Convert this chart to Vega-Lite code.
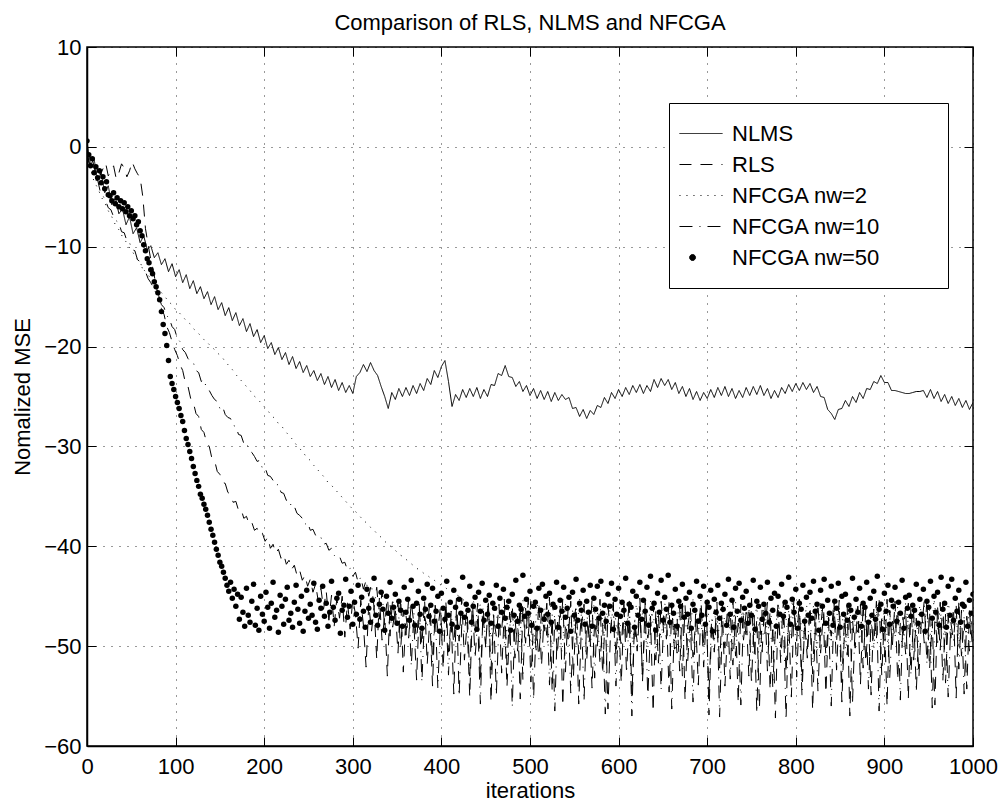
{
"$schema": "https://vega.github.io/schema/vega-lite/v6.json",
"width": 886, "height": 699,
"autosize": {"type": "none"},
"padding": {"left": 87, "top": 47, "right": 32, "bottom": 61},
"background": "white",
"title": {"text": "Comparison of RLS, NLMS and NFCGA", "fontSize": 22, "fontWeight": "normal", "font": "Liberation Sans", "color": "#000", "offset": 1, "anchor": "middle"},
"config": {
 "view": {"stroke": "#000", "strokeWidth": 1.5},
 "axis": {"labelFont": "Liberation Sans", "titleFont": "Liberation Sans", "labelFontSize": 22, "titleFontSize": 22, "titleFontWeight": "normal", "labelColor": "#000", "titleColor": "#000", "domainColor": "#000", "domainWidth": 1.5, "tickColor": "#000", "tickWidth": 1, "gridColor": "#000", "gridDash": [1, 7], "gridOpacity": 0.8, "tickSize": -9}
},
"datasets": {
"nlms": [{"i":0,"v":0.5},{"i":4,"v":-1.8},{"i":8,"v":-1.2},{"i":12,"v":-3.4},{"i":16,"v":-2.6},{"i":20,"v":-4.6},{"i":24,"v":-3.9},{"i":28,"v":-5.8},{"i":32,"v":-5.1},{"i":36,"v":-6.7},{"i":40,"v":-6.2},{"i":44,"v":-7.8},{"i":48,"v":-7.0},{"i":52,"v":-8.7},{"i":56,"v":-8.1},{"i":60,"v":-9.6},{"i":64,"v":-8.9},{"i":68,"v":-10.3},{"i":72,"v":-9.9},{"i":76,"v":-11.1},{"i":80,"v":-10.6},{"i":84,"v":-11.8},{"i":88,"v":-11.2},{"i":92,"v":-12.5},{"i":96,"v":-11.7},{"i":100,"v":-13.0},{"i":104,"v":-12.3},{"i":108,"v":-13.6},{"i":112,"v":-12.8},{"i":116,"v":-14.2},{"i":120,"v":-13.4},{"i":124,"v":-14.7},{"i":128,"v":-14.0},{"i":132,"v":-15.2},{"i":136,"v":-14.5},{"i":140,"v":-15.8},{"i":144,"v":-15.0},{"i":148,"v":-16.3},{"i":152,"v":-15.6},{"i":156,"v":-16.9},{"i":160,"v":-16.1},{"i":164,"v":-17.4},{"i":168,"v":-16.6},{"i":172,"v":-17.9},{"i":176,"v":-17.2},{"i":180,"v":-18.5},{"i":184,"v":-17.7},{"i":188,"v":-19.0},{"i":192,"v":-18.3},{"i":196,"v":-19.6},{"i":200,"v":-18.9},{"i":204,"v":-20.2},{"i":208,"v":-19.6},{"i":212,"v":-20.8},{"i":216,"v":-20.1},{"i":220,"v":-21.3},{"i":224,"v":-20.6},{"i":228,"v":-21.8},{"i":232,"v":-21.0},{"i":236,"v":-22.2},{"i":240,"v":-21.5},{"i":244,"v":-22.6},{"i":248,"v":-21.9},{"i":252,"v":-23.0},{"i":256,"v":-22.4},{"i":260,"v":-23.4},{"i":264,"v":-22.7},{"i":268,"v":-23.8},{"i":272,"v":-23.0},{"i":276,"v":-24.1},{"i":280,"v":-23.3},{"i":284,"v":-24.4},{"i":288,"v":-23.6},{"i":292,"v":-24.6},{"i":296,"v":-23.9},{"i":300,"v":-24.7},{"i":304,"v":-23.0},{"i":308,"v":-22.6},{"i":312,"v":-21.8},{"i":316,"v":-22.5},{"i":320,"v":-21.6},{"i":324,"v":-22.4},{"i":328,"v":-22.9},{"i":332,"v":-24.0},{"i":336,"v":-25.0},{"i":340,"v":-26.2},{"i":344,"v":-24.6},{"i":348,"v":-25.3},{"i":352,"v":-24.2},{"i":356,"v":-25.0},{"i":360,"v":-24.1},{"i":364,"v":-24.9},{"i":368,"v":-23.9},{"i":372,"v":-24.7},{"i":376,"v":-23.7},{"i":380,"v":-24.4},{"i":384,"v":-23.2},{"i":388,"v":-23.8},{"i":392,"v":-22.4},{"i":396,"v":-23.1},{"i":400,"v":-22.0},{"i":404,"v":-21.4},{"i":408,"v":-23.5},{"i":412,"v":-26.0},{"i":416,"v":-24.8},{"i":420,"v":-25.4},{"i":424,"v":-24.3},{"i":428,"v":-25.1},{"i":432,"v":-24.2},{"i":436,"v":-25.0},{"i":440,"v":-24.1},{"i":444,"v":-25.2},{"i":448,"v":-24.3},{"i":452,"v":-25.0},{"i":456,"v":-23.8},{"i":460,"v":-23.9},{"i":464,"v":-22.7},{"i":468,"v":-22.9},{"i":472,"v":-21.9},{"i":476,"v":-23.0},{"i":480,"v":-23.1},{"i":484,"v":-24.0},{"i":488,"v":-23.5},{"i":492,"v":-24.5},{"i":496,"v":-23.9},{"i":500,"v":-24.9},{"i":504,"v":-24.2},{"i":508,"v":-25.2},{"i":512,"v":-24.4},{"i":516,"v":-25.3},{"i":520,"v":-24.5},{"i":524,"v":-25.5},{"i":528,"v":-24.6},{"i":532,"v":-25.4},{"i":536,"v":-24.8},{"i":540,"v":-25.3},{"i":544,"v":-25.1},{"i":548,"v":-26.2},{"i":552,"v":-26.1},{"i":556,"v":-27.0},{"i":560,"v":-26.3},{"i":564,"v":-27.2},{"i":568,"v":-26.4},{"i":572,"v":-26.8},{"i":576,"v":-25.9},{"i":580,"v":-26.1},{"i":584,"v":-25.1},{"i":588,"v":-25.7},{"i":592,"v":-24.6},{"i":596,"v":-25.2},{"i":600,"v":-24.3},{"i":604,"v":-25.0},{"i":608,"v":-24.1},{"i":612,"v":-24.8},{"i":616,"v":-23.9},{"i":620,"v":-24.6},{"i":624,"v":-23.8},{"i":628,"v":-24.7},{"i":632,"v":-23.9},{"i":636,"v":-24.5},{"i":640,"v":-23.3},{"i":644,"v":-24.1},{"i":648,"v":-23.2},{"i":652,"v":-23.9},{"i":656,"v":-23.3},{"i":660,"v":-24.3},{"i":664,"v":-23.6},{"i":668,"v":-24.7},{"i":672,"v":-24.0},{"i":676,"v":-25.0},{"i":680,"v":-24.2},{"i":684,"v":-25.3},{"i":688,"v":-24.5},{"i":692,"v":-25.4},{"i":696,"v":-24.6},{"i":700,"v":-25.2},{"i":704,"v":-24.3},{"i":708,"v":-25.1},{"i":712,"v":-24.1},{"i":716,"v":-24.9},{"i":720,"v":-24.0},{"i":724,"v":-25.0},{"i":728,"v":-24.2},{"i":732,"v":-25.2},{"i":736,"v":-24.4},{"i":740,"v":-25.1},{"i":744,"v":-24.1},{"i":748,"v":-24.9},{"i":752,"v":-24.0},{"i":756,"v":-24.8},{"i":760,"v":-23.9},{"i":764,"v":-24.9},{"i":768,"v":-24.2},{"i":772,"v":-25.2},{"i":776,"v":-24.4},{"i":780,"v":-25.1},{"i":784,"v":-24.1},{"i":788,"v":-24.7},{"i":792,"v":-23.8},{"i":796,"v":-24.5},{"i":800,"v":-23.7},{"i":804,"v":-24.4},{"i":808,"v":-23.6},{"i":812,"v":-24.3},{"i":816,"v":-23.7},{"i":820,"v":-24.6},{"i":824,"v":-24.0},{"i":828,"v":-25.0},{"i":832,"v":-25.1},{"i":836,"v":-26.3},{"i":840,"v":-26.7},{"i":844,"v":-27.3},{"i":848,"v":-26.3},{"i":852,"v":-26.2},{"i":856,"v":-25.4},{"i":860,"v":-26.0},{"i":864,"v":-25.0},{"i":868,"v":-25.6},{"i":872,"v":-24.6},{"i":876,"v":-25.2},{"i":880,"v":-24.2},{"i":884,"v":-24.3},{"i":888,"v":-23.5},{"i":892,"v":-23.7},{"i":896,"v":-22.9},{"i":900,"v":-23.6},{"i":904,"v":-23.6},{"i":908,"v":-24.4},{"i":912,"v":-24.4},{"i":916,"v":-24.5},{"i":920,"v":-24.6},{"i":924,"v":-24.7},{"i":928,"v":-24.7},{"i":932,"v":-24.6},{"i":936,"v":-24.5},{"i":940,"v":-24.5},{"i":944,"v":-24.4},{"i":948,"v":-25.1},{"i":952,"v":-24.3},{"i":956,"v":-25.2},{"i":960,"v":-24.5},{"i":964,"v":-25.5},{"i":968,"v":-24.8},{"i":972,"v":-25.7},{"i":976,"v":-25.0},{"i":980,"v":-25.9},{"i":984,"v":-25.2},{"i":988,"v":-26.1},{"i":992,"v":-25.4},{"i":996,"v":-26.3},{"i":1000,"v":-25.6}],
"rls": [{"i":0,"v":-0.5},{"i":3,"v":-1.8},{"i":6,"v":-1.2},{"i":9,"v":-2.4},{"i":12,"v":-1.9},{"i":15,"v":-2.8},{"i":18,"v":-2.2},{"i":21,"v":-1.6},{"i":24,"v":-2.9},{"i":27,"v":-2.5},{"i":30,"v":-1.9},{"i":33,"v":-3.2},{"i":36,"v":-2.6},{"i":39,"v":-1.7},{"i":42,"v":-2.1},{"i":45,"v":-3.0},{"i":48,"v":-2.4},{"i":51,"v":-1.5},{"i":54,"v":-2.2},{"i":57,"v":-2.7},{"i":60,"v":-3.1},{"i":63,"v":-5.0},{"i":66,"v":-8.2},{"i":69,"v":-9.8},{"i":72,"v":-11.3},{"i":75,"v":-12.4},{"i":78,"v":-14.0},{"i":81,"v":-14.9},{"i":84,"v":-16.2},{"i":87,"v":-16.8},{"i":90,"v":-18.0},{"i":93,"v":-18.6},{"i":96,"v":-19.5},{"i":99,"v":-20.3},{"i":102,"v":-20.9},{"i":105,"v":-21.8},{"i":108,"v":-22.4},{"i":111,"v":-23.6},{"i":114,"v":-24.0},{"i":117,"v":-25.2},{"i":120,"v":-25.6},{"i":123,"v":-26.7},{"i":126,"v":-27.0},{"i":129,"v":-28.3},{"i":132,"v":-28.6},{"i":135,"v":-29.6},{"i":138,"v":-30.0},{"i":141,"v":-31.2},{"i":144,"v":-31.4},{"i":147,"v":-32.5},{"i":150,"v":-32.8},{"i":153,"v":-33.6},{"i":156,"v":-33.7},{"i":159,"v":-34.6},{"i":162,"v":-34.8},{"i":165,"v":-35.6},{"i":168,"v":-35.5},{"i":171,"v":-36.4},{"i":174,"v":-36.3},{"i":177,"v":-37.2},{"i":180,"v":-37.0},{"i":183,"v":-37.8},{"i":186,"v":-37.6},{"i":189,"v":-38.4},{"i":192,"v":-38.2},{"i":195,"v":-38.9},{"i":198,"v":-38.7},{"i":201,"v":-39.5},{"i":204,"v":-39.1},{"i":207,"v":-40.2},{"i":210,"v":-39.8},{"i":213,"v":-40.7},{"i":216,"v":-40.3},{"i":219,"v":-41.2},{"i":222,"v":-40.8},{"i":225,"v":-41.8},{"i":228,"v":-41.4},{"i":231,"v":-42.3},{"i":234,"v":-41.9},{"i":237,"v":-42.9},{"i":240,"v":-42.4},{"i":243,"v":-43.4},{"i":246,"v":-42.9},{"i":249,"v":-44.0},{"i":252,"v":-43.3},{"i":255,"v":-44.6},{"i":258,"v":-43.8},{"i":261,"v":-45.5},{"i":264,"v":-44.2},{"i":267,"v":-46.3},{"i":270,"v":-44.5},{"i":273,"v":-47.4},{"i":276,"v":-44.9},{"i":279,"v":-48.0},{"i":282,"v":-45.2},{"i":285,"v":-47.2},{"i":288,"v":-45.0},{"i":291,"v":-49.1},{"i":294,"v":-45.6},{"i":297,"v":-48.3},{"i":300,"v":-45.3},{"i":303,"v":-46.8},{"i":306,"v":-50.2},{"i":309,"v":-45.4},{"i":312,"v":-47.9},{"i":315,"v":-52.1},{"i":318,"v":-45.7},{"i":321,"v":-48.6},{"i":324,"v":-46.1},{"i":327,"v":-51.3},{"i":330,"v":-45.2},{"i":333,"v":-49.4},{"i":336,"v":-47.0},{"i":339,"v":-53.0},{"i":342,"v":-45.8},{"i":345,"v":-48.1},{"i":348,"v":-46.3},{"i":351,"v":-50.7},{"i":354,"v":-45.1},{"i":357,"v":-52.6},{"i":360,"v":-46.9},{"i":363,"v":-49.2},{"i":366,"v":-45.6},{"i":369,"v":-47.8},{"i":372,"v":-53.4},{"i":375,"v":-46.2},{"i":378,"v":-49.9},{"i":381,"v":-45.3},{"i":384,"v":-51.8},{"i":387,"v":-47.1},{"i":390,"v":-54.0},{"i":393,"v":-45.9},{"i":396,"v":-48.4},{"i":399,"v":-46.0},{"i":402,"v":-52.3},{"i":405,"v":-45.5},{"i":408,"v":-50.6},{"i":411,"v":-47.3},{"i":414,"v":-54.8},{"i":417,"v":-46.1},{"i":420,"v":-49.5},{"i":423,"v":-45.2},{"i":426,"v":-51.4},{"i":429,"v":-47.6},{"i":432,"v":-55.1},{"i":435,"v":-46.4},{"i":438,"v":-48.8},{"i":441,"v":-45.7},{"i":444,"v":-53.2},{"i":447,"v":-46.9},{"i":450,"v":-50.1},{"i":453,"v":-45.3},{"i":456,"v":-55.6},{"i":459,"v":-47.2},{"i":462,"v":-49.0},{"i":465,"v":-45.8},{"i":468,"v":-52.7},{"i":471,"v":-46.5},{"i":474,"v":-54.1},{"i":477,"v":-48.3},{"i":480,"v":-45.9},{"i":483,"v":-51.2},{"i":486,"v":-47.0},{"i":489,"v":-55.3},{"i":492,"v":-46.2},{"i":495,"v":-49.7},{"i":498,"v":-45.4},{"i":501,"v":-53.6},{"i":504,"v":-47.5},{"i":507,"v":-50.4},{"i":510,"v":-45.6},{"i":513,"v":-52.0},{"i":516,"v":-46.8},{"i":519,"v":-48.9},{"i":522,"v":-45.1},{"i":525,"v":-54.5},{"i":528,"v":-47.3},{"i":531,"v":-50.8},{"i":534,"v":-46.0},{"i":537,"v":-56.0},{"i":540,"v":-47.7},{"i":543,"v":-49.3},{"i":546,"v":-45.5},{"i":549,"v":-53.1},{"i":552,"v":-46.6},{"i":555,"v":-55.8},{"i":558,"v":-48.0},{"i":561,"v":-45.8},{"i":564,"v":-51.5},{"i":567,"v":-46.9},{"i":570,"v":-54.2},{"i":573,"v":-47.4},{"i":576,"v":-50.0},{"i":579,"v":-45.3},{"i":582,"v":-52.8},{"i":585,"v":-46.7},{"i":588,"v":-56.3},{"i":591,"v":-48.2},{"i":594,"v":-45.9},{"i":597,"v":-51.0},{"i":600,"v":-47.1},{"i":603,"v":-53.7},{"i":606,"v":-46.3},{"i":609,"v":-49.6},{"i":612,"v":-45.2},{"i":615,"v":-55.0},{"i":618,"v":-47.8},{"i":621,"v":-50.5},{"i":624,"v":-46.1},{"i":627,"v":-53.3},{"i":630,"v":-45.6},{"i":633,"v":-49.2},{"i":636,"v":-47.0},{"i":639,"v":-56.6},{"i":642,"v":-46.4},{"i":645,"v":-51.7},{"i":648,"v":-45.5},{"i":651,"v":-48.7},{"i":654,"v":-46.8},{"i":657,"v":-54.6},{"i":660,"v":-45.9},{"i":663,"v":-50.3},{"i":666,"v":-47.2},{"i":669,"v":-52.5},{"i":672,"v":-45.4},{"i":675,"v":-55.4},{"i":678,"v":-48.1},{"i":681,"v":-46.2},{"i":684,"v":-51.1},{"i":687,"v":-47.5},{"i":690,"v":-53.9},{"i":693,"v":-46.0},{"i":696,"v":-49.8},{"i":699,"v":-45.3},{"i":702,"v":-56.9},{"i":705,"v":-47.6},{"i":708,"v":-50.6},{"i":711,"v":-46.3},{"i":714,"v":-52.2},{"i":717,"v":-45.7},{"i":720,"v":-54.0},{"i":723,"v":-48.4},{"i":726,"v":-46.5},{"i":729,"v":-51.9},{"i":732,"v":-47.0},{"i":735,"v":-55.7},{"i":738,"v":-45.8},{"i":741,"v":-49.4},{"i":744,"v":-46.6},{"i":747,"v":-53.0},{"i":750,"v":-45.2},{"i":753,"v":-50.9},{"i":756,"v":-47.3},{"i":759,"v":-56.2},{"i":762,"v":-46.1},{"i":765,"v":-48.8},{"i":768,"v":-45.6},{"i":771,"v":-54.4},{"i":774,"v":-47.9},{"i":777,"v":-57.2},{"i":780,"v":-46.4},{"i":783,"v":-50.1},{"i":786,"v":-45.5},{"i":789,"v":-52.7},{"i":792,"v":-47.2},{"i":795,"v":-55.1},{"i":798,"v":-46.0},{"i":801,"v":-49.5},{"i":804,"v":-45.3},{"i":807,"v":-53.5},{"i":810,"v":-47.7},{"i":813,"v":-51.2},{"i":816,"v":-46.2},{"i":819,"v":-56.4},{"i":822,"v":-48.0},{"i":825,"v":-45.7},{"i":828,"v":-50.7},{"i":831,"v":-46.8},{"i":834,"v":-54.7},{"i":837,"v":-47.1},{"i":840,"v":-49.0},{"i":843,"v":-45.4},{"i":846,"v":-52.4},{"i":849,"v":-46.5},{"i":852,"v":-55.6},{"i":855,"v":-48.3},{"i":858,"v":-45.9},{"i":861,"v":-57.0},{"i":864,"v":-47.4},{"i":867,"v":-50.2},{"i":870,"v":-46.0},{"i":873,"v":-53.8},{"i":876,"v":-45.6},{"i":879,"v":-51.6},{"i":882,"v":-47.3},{"i":885,"v":-54.9},{"i":888,"v":-46.3},{"i":891,"v":-49.3},{"i":894,"v":-45.2},{"i":897,"v":-52.9},{"i":900,"v":-47.0},{"i":903,"v":-56.0},{"i":906,"v":-46.4},{"i":909,"v":-50.0},{"i":912,"v":-45.5},{"i":915,"v":-53.4},{"i":918,"v":-47.6},{"i":921,"v":-48.9},{"i":924,"v":-46.1},{"i":927,"v":-55.3},{"i":930,"v":-45.8},{"i":933,"v":-51.4},{"i":936,"v":-47.2},{"i":939,"v":-53.1},{"i":942,"v":-46.6},{"i":945,"v":-49.7},{"i":948,"v":-45.3},{"i":951,"v":-52.3},{"i":954,"v":-47.5},{"i":957,"v":-55.9},{"i":960,"v":-46.0},{"i":963,"v":-50.4},{"i":966,"v":-45.6},{"i":969,"v":-53.7},{"i":972,"v":-47.1},{"i":975,"v":-49.2},{"i":978,"v":-46.2},{"i":981,"v":-55.2},{"i":984,"v":-45.4},{"i":987,"v":-51.0},{"i":990,"v":-47.4},{"i":993,"v":-54.3},{"i":996,"v":-46.5},{"i":999,"v":-49.6}],
"nw2": [{"i":0,"v":-0.5},{"i":4,"v":-2.2},{"i":8,"v":-3.5},{"i":12,"v":-4.1},{"i":16,"v":-5.0},{"i":20,"v":-5.6},{"i":24,"v":-6.4},{"i":28,"v":-7.0},{"i":32,"v":-7.8},{"i":36,"v":-8.3},{"i":40,"v":-9.0},{"i":44,"v":-9.5},{"i":48,"v":-10.1},{"i":52,"v":-10.6},{"i":56,"v":-11.2},{"i":60,"v":-11.6},{"i":64,"v":-12.3},{"i":68,"v":-12.7},{"i":72,"v":-13.2},{"i":76,"v":-13.7},{"i":80,"v":-14.1},{"i":84,"v":-14.6},{"i":88,"v":-15.0},{"i":92,"v":-15.5},{"i":96,"v":-15.8},{"i":100,"v":-16.3},{"i":104,"v":-16.6},{"i":108,"v":-17.0},{"i":112,"v":-17.4},{"i":116,"v":-17.7},{"i":120,"v":-18.2},{"i":124,"v":-18.5},{"i":128,"v":-18.9},{"i":132,"v":-19.3},{"i":136,"v":-19.6},{"i":140,"v":-20.0},{"i":144,"v":-20.3},{"i":148,"v":-20.7},{"i":152,"v":-21.0},{"i":156,"v":-21.5},{"i":160,"v":-21.9},{"i":164,"v":-22.3},{"i":168,"v":-22.8},{"i":172,"v":-23.2},{"i":176,"v":-23.6},{"i":180,"v":-24.0},{"i":184,"v":-24.4},{"i":188,"v":-24.9},{"i":192,"v":-25.2},{"i":196,"v":-25.6},{"i":200,"v":-26.0},{"i":204,"v":-26.4},{"i":208,"v":-26.9},{"i":212,"v":-27.2},{"i":216,"v":-27.7},{"i":220,"v":-28.0},{"i":224,"v":-28.5},{"i":228,"v":-28.9},{"i":232,"v":-29.3},{"i":236,"v":-29.8},{"i":240,"v":-30.2},{"i":244,"v":-30.6},{"i":248,"v":-31.1},{"i":252,"v":-31.4},{"i":256,"v":-31.9},{"i":260,"v":-32.3},{"i":264,"v":-32.7},{"i":268,"v":-33.1},{"i":272,"v":-33.6},{"i":276,"v":-33.9},{"i":280,"v":-34.3},{"i":284,"v":-34.7},{"i":288,"v":-35.1},{"i":292,"v":-35.5},{"i":296,"v":-35.9},{"i":300,"v":-36.3},{"i":304,"v":-36.6},{"i":308,"v":-37.0},{"i":312,"v":-37.4},{"i":316,"v":-37.7},{"i":320,"v":-38.1},{"i":324,"v":-38.4},{"i":328,"v":-38.8},{"i":332,"v":-39.1},{"i":336,"v":-39.5},{"i":340,"v":-39.8},{"i":344,"v":-40.1},{"i":348,"v":-40.4},{"i":352,"v":-40.8},{"i":356,"v":-41.0},{"i":360,"v":-41.3},{"i":364,"v":-41.6},{"i":368,"v":-41.9},{"i":372,"v":-42.2},{"i":376,"v":-42.4},{"i":380,"v":-42.7},{"i":384,"v":-42.9},{"i":388,"v":-43.2},{"i":392,"v":-43.4},{"i":396,"v":-43.7},{"i":400,"v":-43.9},{"i":404,"v":-44.1},{"i":408,"v":-44.4},{"i":412,"v":-44.5},{"i":416,"v":-44.8},{"i":420,"v":-45.0},{"i":424,"v":-45.3},{"i":428,"v":-45.6},{"i":432,"v":-46.2},{"i":436,"v":-45.4},{"i":440,"v":-47.1},{"i":444,"v":-45.8},{"i":448,"v":-48.3},{"i":452,"v":-46.0},{"i":456,"v":-49.2},{"i":460,"v":-45.6},{"i":464,"v":-47.8},{"i":468,"v":-46.3},{"i":472,"v":-50.1},{"i":476,"v":-45.9},{"i":480,"v":-48.4},{"i":484,"v":-46.7},{"i":488,"v":-49.6},{"i":492,"v":-45.4},{"i":496,"v":-47.5},{"i":500,"v":-46.8},{"i":504,"v":-50.3},{"i":508,"v":-45.7},{"i":512,"v":-48.9},{"i":516,"v":-46.2},{"i":520,"v":-49.9},{"i":524,"v":-45.5},{"i":528,"v":-47.2},{"i":532,"v":-46.9},{"i":536,"v":-50.6},{"i":540,"v":-45.8},{"i":544,"v":-48.1},{"i":548,"v":-46.4},{"i":552,"v":-49.4},{"i":556,"v":-45.3},{"i":560,"v":-47.7},{"i":564,"v":-46.6},{"i":568,"v":-50.0},{"i":572,"v":-45.9},{"i":576,"v":-48.6},{"i":580,"v":-46.1},{"i":584,"v":-49.1},{"i":588,"v":-45.6},{"i":592,"v":-47.4},{"i":596,"v":-46.8},{"i":600,"v":-50.4},{"i":604,"v":-45.4},{"i":608,"v":-48.2},{"i":612,"v":-46.5},{"i":616,"v":-49.7},{"i":620,"v":-45.8},{"i":624,"v":-47.9},{"i":628,"v":-46.3},{"i":632,"v":-50.2},{"i":636,"v":-45.5},{"i":640,"v":-48.7},{"i":644,"v":-46.9},{"i":648,"v":-49.3},{"i":652,"v":-45.7},{"i":656,"v":-47.3},{"i":660,"v":-46.0},{"i":664,"v":-50.5},{"i":668,"v":-45.6},{"i":672,"v":-48.0},{"i":676,"v":-46.6},{"i":680,"v":-49.8},{"i":684,"v":-45.3},{"i":688,"v":-47.6},{"i":692,"v":-46.7},{"i":696,"v":-50.1},{"i":700,"v":-45.9},{"i":704,"v":-48.5},{"i":708,"v":-46.2},{"i":712,"v":-49.5},{"i":716,"v":-45.4},{"i":720,"v":-47.7},{"i":724,"v":-46.8},{"i":728,"v":-50.7},{"i":732,"v":-45.6},{"i":736,"v":-48.3},{"i":740,"v":-46.4},{"i":744,"v":-49.0},{"i":748,"v":-45.8},{"i":752,"v":-47.5},{"i":756,"v":-46.1},{"i":760,"v":-50.3},{"i":764,"v":-45.5},{"i":768,"v":-48.8},{"i":772,"v":-46.9},{"i":776,"v":-49.6},{"i":780,"v":-45.7},{"i":784,"v":-47.8},{"i":788,"v":-46.3},{"i":792,"v":-50.0},{"i":796,"v":-45.4},{"i":800,"v":-48.4},{"i":804,"v":-46.6},{"i":808,"v":-49.2},{"i":812,"v":-45.9},{"i":816,"v":-47.4},{"i":820,"v":-46.0},{"i":824,"v":-50.6},{"i":828,"v":-45.6},{"i":832,"v":-48.1},{"i":836,"v":-46.8},{"i":840,"v":-49.7},{"i":844,"v":-45.3},{"i":848,"v":-47.6},{"i":852,"v":-46.5},{"i":856,"v":-50.2},{"i":860,"v":-45.8},{"i":864,"v":-48.6},{"i":868,"v":-46.2},{"i":872,"v":-49.4},{"i":876,"v":-45.5},{"i":880,"v":-47.9},{"i":884,"v":-46.7},{"i":888,"v":-50.4},{"i":892,"v":-45.7},{"i":896,"v":-48.2},{"i":900,"v":-46.4},{"i":904,"v":-49.8},{"i":908,"v":-45.4},{"i":912,"v":-47.3},{"i":916,"v":-46.9},{"i":920,"v":-50.1},{"i":924,"v":-45.6},{"i":928,"v":-48.7},{"i":932,"v":-46.1},{"i":936,"v":-49.1},{"i":940,"v":-45.9},{"i":944,"v":-47.7},{"i":948,"v":-46.6},{"i":952,"v":-50.5},{"i":956,"v":-45.3},{"i":960,"v":-48.3},{"i":964,"v":-46.8},{"i":968,"v":-49.5},{"i":972,"v":-45.7},{"i":976,"v":-47.4},{"i":980,"v":-46.2},{"i":984,"v":-50.0},{"i":988,"v":-45.5},{"i":992,"v":-48.9},{"i":996,"v":-46.4},{"i":1000,"v":-49.2}],
"nw10": [{"i":0,"v":-0.8},{"i":3,"v":-1.9},{"i":6,"v":-2.6},{"i":9,"v":-3.4},{"i":12,"v":-3.3},{"i":15,"v":-4.5},{"i":18,"v":-4.9},{"i":21,"v":-5.4},{"i":24,"v":-6.1},{"i":27,"v":-6.3},{"i":30,"v":-7.0},{"i":33,"v":-7.4},{"i":36,"v":-7.6},{"i":39,"v":-8.5},{"i":42,"v":-8.6},{"i":45,"v":-9.4},{"i":48,"v":-9.6},{"i":51,"v":-10.3},{"i":54,"v":-10.4},{"i":57,"v":-11.3},{"i":60,"v":-11.5},{"i":63,"v":-12.3},{"i":66,"v":-12.5},{"i":69,"v":-13.2},{"i":72,"v":-13.6},{"i":75,"v":-14.1},{"i":78,"v":-14.7},{"i":81,"v":-15.0},{"i":84,"v":-15.8},{"i":87,"v":-16.1},{"i":90,"v":-16.9},{"i":93,"v":-17.2},{"i":96,"v":-18.0},{"i":99,"v":-18.3},{"i":102,"v":-19.2},{"i":105,"v":-19.5},{"i":108,"v":-20.3},{"i":111,"v":-20.6},{"i":114,"v":-21.2},{"i":117,"v":-21.5},{"i":120,"v":-21.6},{"i":123,"v":-22.4},{"i":126,"v":-22.6},{"i":129,"v":-23.5},{"i":132,"v":-23.3},{"i":135,"v":-24.2},{"i":138,"v":-24.4},{"i":141,"v":-24.9},{"i":144,"v":-25.3},{"i":147,"v":-25.5},{"i":150,"v":-26.2},{"i":153,"v":-26.0},{"i":156,"v":-26.8},{"i":159,"v":-27.1},{"i":162,"v":-27.2},{"i":165,"v":-27.9},{"i":168,"v":-28.0},{"i":171,"v":-28.8},{"i":174,"v":-28.9},{"i":177,"v":-29.7},{"i":180,"v":-29.6},{"i":183,"v":-30.4},{"i":186,"v":-30.6},{"i":189,"v":-31.0},{"i":192,"v":-31.5},{"i":195,"v":-31.4},{"i":198,"v":-32.2},{"i":201,"v":-32.1},{"i":204,"v":-32.9},{"i":207,"v":-33.0},{"i":210,"v":-33.4},{"i":213,"v":-33.9},{"i":216,"v":-33.8},{"i":219,"v":-34.6},{"i":222,"v":-34.7},{"i":225,"v":-35.4},{"i":228,"v":-35.3},{"i":231,"v":-36.1},{"i":234,"v":-36.0},{"i":237,"v":-36.7},{"i":240,"v":-36.9},{"i":243,"v":-37.2},{"i":246,"v":-37.8},{"i":249,"v":-37.6},{"i":252,"v":-38.4},{"i":255,"v":-38.3},{"i":258,"v":-38.9},{"i":261,"v":-39.2},{"i":264,"v":-39.1},{"i":267,"v":-39.8},{"i":270,"v":-39.7},{"i":273,"v":-40.4},{"i":276,"v":-40.2},{"i":279,"v":-40.9},{"i":282,"v":-41.1},{"i":285,"v":-41.0},{"i":288,"v":-41.7},{"i":291,"v":-41.6},{"i":294,"v":-42.4},{"i":297,"v":-42.2},{"i":300,"v":-43.0},{"i":303,"v":-42.6},{"i":306,"v":-43.6},{"i":309,"v":-43.1},{"i":312,"v":-44.3},{"i":315,"v":-43.4},{"i":318,"v":-45.0},{"i":321,"v":-43.8},{"i":324,"v":-46.1},{"i":327,"v":-44.1},{"i":330,"v":-47.3},{"i":333,"v":-44.5},{"i":336,"v":-48.2},{"i":339,"v":-44.9},{"i":342,"v":-49.0},{"i":345,"v":-45.2},{"i":348,"v":-47.6},{"i":351,"v":-45.6},{"i":354,"v":-50.3},{"i":357,"v":-46.4},{"i":360,"v":-48.9},{"i":363,"v":-45.3},{"i":366,"v":-52.0},{"i":369,"v":-46.7},{"i":372,"v":-49.5},{"i":375,"v":-45.8},{"i":378,"v":-53.6},{"i":381,"v":-47.0},{"i":384,"v":-48.2},{"i":387,"v":-45.5},{"i":390,"v":-51.6},{"i":393,"v":-46.3},{"i":396,"v":-54.2},{"i":399,"v":-47.4},{"i":402,"v":-49.1},{"i":405,"v":-45.9},{"i":408,"v":-52.9},{"i":411,"v":-46.5},{"i":414,"v":-50.0},{"i":417,"v":-45.2},{"i":420,"v":-55.0},{"i":423,"v":-47.8},{"i":426,"v":-48.6},{"i":429,"v":-46.1},{"i":432,"v":-53.0},{"i":435,"v":-45.4},{"i":438,"v":-51.2},{"i":441,"v":-47.3},{"i":444,"v":-55.8},{"i":447,"v":-46.0},{"i":450,"v":-49.8},{"i":453,"v":-45.6},{"i":456,"v":-52.4},{"i":459,"v":-46.9},{"i":462,"v":-54.9},{"i":465,"v":-47.5},{"i":468,"v":-48.4},{"i":471,"v":-45.3},{"i":474,"v":-51.9},{"i":477,"v":-46.6},{"i":480,"v":-56.1},{"i":483,"v":-47.1},{"i":486,"v":-50.5},{"i":489,"v":-45.8},{"i":492,"v":-53.4},{"i":495,"v":-46.2},{"i":498,"v":-49.0},{"i":501,"v":-45.5},{"i":504,"v":-55.4},{"i":507,"v":-47.9},{"i":510,"v":-51.3},{"i":513,"v":-46.4},{"i":516,"v":-48.5},{"i":519,"v":-45.7},{"i":522,"v":-53.9},{"i":525,"v":-46.8},{"i":528,"v":-56.5},{"i":531,"v":-47.6},{"i":534,"v":-49.4},{"i":537,"v":-45.3},{"i":540,"v":-52.6},{"i":543,"v":-46.1},{"i":546,"v":-54.7},{"i":549,"v":-48.0},{"i":552,"v":-45.9},{"i":555,"v":-50.8},{"i":558,"v":-46.7},{"i":561,"v":-55.5},{"i":564,"v":-47.2},{"i":567,"v":-49.9},{"i":570,"v":-45.4},{"i":573,"v":-53.2},{"i":576,"v":-46.5},{"i":579,"v":-51.8},{"i":582,"v":-47.7},{"i":585,"v":-56.8},{"i":588,"v":-46.0},{"i":591,"v":-48.7},{"i":594,"v":-45.6},{"i":597,"v":-54.0},{"i":600,"v":-47.3},{"i":603,"v":-50.1},{"i":606,"v":-45.8},{"i":609,"v":-52.7},{"i":612,"v":-46.9},{"i":615,"v":-57.0},{"i":618,"v":-47.4},{"i":621,"v":-49.6},{"i":624,"v":-45.2},{"i":627,"v":-53.5},{"i":630,"v":-46.3},{"i":633,"v":-55.2},{"i":636,"v":-48.1},{"i":639,"v":-45.7},{"i":642,"v":-51.4},{"i":645,"v":-46.6},{"i":648,"v":-54.4},{"i":651,"v":-47.0},{"i":654,"v":-49.3},{"i":657,"v":-45.5},{"i":660,"v":-56.3},{"i":663,"v":-47.8},{"i":666,"v":-50.7},{"i":669,"v":-46.2},{"i":672,"v":-53.0},{"i":675,"v":-45.9},{"i":678,"v":-51.5},{"i":681,"v":-47.5},{"i":684,"v":-55.6},{"i":687,"v":-46.4},{"i":690,"v":-48.9},{"i":693,"v":-45.3},{"i":696,"v":-52.1},{"i":699,"v":-46.8},{"i":702,"v":-54.8},{"i":705,"v":-47.2},{"i":708,"v":-49.7},{"i":711,"v":-45.6},{"i":714,"v":-57.1},{"i":717,"v":-47.9},{"i":720,"v":-50.2},{"i":723,"v":-46.0},{"i":726,"v":-53.3},{"i":729,"v":-45.4},{"i":732,"v":-51.0},{"i":735,"v":-47.7},{"i":738,"v":-55.9},{"i":741,"v":-46.5},{"i":744,"v":-49.1},{"i":747,"v":-45.8},{"i":750,"v":-53.8},{"i":753,"v":-46.9},{"i":756,"v":-56.7},{"i":759,"v":-47.3},{"i":762,"v":-50.6},{"i":765,"v":-45.5},{"i":768,"v":-52.5},{"i":771,"v":-46.2},{"i":774,"v":-54.1},{"i":777,"v":-48.2},{"i":780,"v":-45.9},{"i":783,"v":-51.7},{"i":786,"v":-47.0},{"i":789,"v":-57.4},{"i":792,"v":-46.3},{"i":795,"v":-49.4},{"i":798,"v":-45.2},{"i":801,"v":-53.1},{"i":804,"v":-46.7},{"i":807,"v":-55.0},{"i":810,"v":-47.6},{"i":813,"v":-50.3},{"i":816,"v":-45.7},{"i":819,"v":-52.8},{"i":822,"v":-46.4},{"i":825,"v":-54.5},{"i":828,"v":-48.1},{"i":831,"v":-45.6},{"i":834,"v":-51.2},{"i":837,"v":-47.3},{"i":840,"v":-56.0},{"i":843,"v":-46.1},{"i":846,"v":-49.6},{"i":849,"v":-45.4},{"i":852,"v":-53.6},{"i":855,"v":-47.0},{"i":858,"v":-50.9},{"i":861,"v":-46.5},{"i":864,"v":-55.7},{"i":867,"v":-47.8},{"i":870,"v":-48.6},{"i":873,"v":-45.8},{"i":876,"v":-52.2},{"i":879,"v":-46.3},{"i":882,"v":-54.3},{"i":885,"v":-47.4},{"i":888,"v":-49.9},{"i":891,"v":-45.5},{"i":894,"v":-56.5},{"i":897,"v":-46.9},{"i":900,"v":-51.1},{"i":903,"v":-45.3},{"i":906,"v":-53.2},{"i":909,"v":-47.5},{"i":912,"v":-49.2},{"i":915,"v":-46.0},{"i":918,"v":-55.4},{"i":921,"v":-47.1},{"i":924,"v":-50.8},{"i":927,"v":-45.7},{"i":930,"v":-52.9},{"i":933,"v":-46.6},{"i":936,"v":-54.6},{"i":939,"v":-47.9},{"i":942,"v":-48.3},{"i":945,"v":-45.4},{"i":948,"v":-51.8},{"i":951,"v":-46.2},{"i":954,"v":-56.2},{"i":957,"v":-47.2},{"i":960,"v":-50.0},{"i":963,"v":-45.6},{"i":966,"v":-53.5},{"i":969,"v":-46.8},{"i":972,"v":-55.1},{"i":975,"v":-47.6},{"i":978,"v":-49.5},{"i":981,"v":-45.9},{"i":984,"v":-52.3},{"i":987,"v":-46.4},{"i":990,"v":-54.8},{"i":993,"v":-47.0},{"i":996,"v":-50.5},{"i":999,"v":-46.1}],
"nw50": [{"i":0,"v":0.6},{"i":2,"v":-0.8},{"i":4,"v":-1.9},{"i":6,"v":-1.2},{"i":8,"v":-2.6},{"i":10,"v":-2.0},{"i":12,"v":-3.1},{"i":14,"v":-2.4},{"i":16,"v":-3.6},{"i":18,"v":-3.0},{"i":20,"v":-4.2},{"i":22,"v":-3.5},{"i":24,"v":-4.8},{"i":26,"v":-4.9},{"i":28,"v":-5.4},{"i":30,"v":-4.6},{"i":32,"v":-5.7},{"i":34,"v":-5.1},{"i":36,"v":-6.0},{"i":38,"v":-5.4},{"i":40,"v":-6.2},{"i":42,"v":-5.6},{"i":44,"v":-6.5},{"i":46,"v":-6.0},{"i":48,"v":-6.9},{"i":50,"v":-6.4},{"i":52,"v":-7.2},{"i":54,"v":-6.9},{"i":56,"v":-7.8},{"i":58,"v":-7.5},{"i":60,"v":-8.4},{"i":62,"v":-8.9},{"i":64,"v":-9.8},{"i":66,"v":-10.4},{"i":68,"v":-11.2},{"i":70,"v":-11.6},{"i":72,"v":-12.3},{"i":74,"v":-12.7},{"i":76,"v":-13.5},{"i":78,"v":-14.0},{"i":80,"v":-14.6},{"i":82,"v":-15.3},{"i":84,"v":-16.5},{"i":86,"v":-17.8},{"i":88,"v":-18.7},{"i":90,"v":-19.9},{"i":92,"v":-21.4},{"i":94,"v":-23.0},{"i":96,"v":-23.7},{"i":98,"v":-24.3},{"i":100,"v":-25.0},{"i":102,"v":-25.6},{"i":104,"v":-26.2},{"i":106,"v":-26.9},{"i":108,"v":-27.5},{"i":110,"v":-28.4},{"i":112,"v":-29.2},{"i":114,"v":-29.8},{"i":116,"v":-30.5},{"i":118,"v":-31.2},{"i":120,"v":-32.0},{"i":122,"v":-32.7},{"i":124,"v":-33.4},{"i":126,"v":-34.0},{"i":128,"v":-34.8},{"i":130,"v":-35.2},{"i":132,"v":-35.8},{"i":134,"v":-36.3},{"i":136,"v":-36.9},{"i":138,"v":-37.6},{"i":140,"v":-38.3},{"i":142,"v":-38.9},{"i":144,"v":-39.6},{"i":146,"v":-40.3},{"i":148,"v":-40.9},{"i":150,"v":-41.6},{"i":152,"v":-42.0},{"i":154,"v":-42.6},{"i":156,"v":-43.2},{"i":158,"v":-43.9},{"i":160,"v":-44.5},{"i":162,"v":-43.6},{"i":164,"v":-45.2},{"i":166,"v":-44.3},{"i":168,"v":-46.0},{"i":170,"v":-44.8},{"i":172,"v":-47.3},{"i":174,"v":-45.1},{"i":176,"v":-46.6},{"i":178,"v":-48.0},{"i":180,"v":-44.2},{"i":182,"v":-46.9},{"i":184,"v":-47.6},{"i":186,"v":-45.5},{"i":188,"v":-43.8},{"i":190,"v":-47.9},{"i":192,"v":-46.2},{"i":194,"v":-48.4},{"i":196,"v":-45.0},{"i":198,"v":-46.8},{"i":200,"v":-47.5},{"i":202,"v":-44.6},{"i":204,"v":-46.1},{"i":206,"v":-48.2},{"i":208,"v":-45.7},{"i":210,"v":-43.6},{"i":212,"v":-47.1},{"i":214,"v":-46.4},{"i":216,"v":-48.6},{"i":218,"v":-44.9},{"i":220,"v":-46.0},{"i":222,"v":-47.8},{"i":224,"v":-45.3},{"i":226,"v":-44.1},{"i":228,"v":-47.4},{"i":230,"v":-46.7},{"i":232,"v":-48.1},{"i":234,"v":-45.6},{"i":236,"v":-43.9},{"i":238,"v":-46.3},{"i":240,"v":-47.7},{"i":242,"v":-45.0},{"i":244,"v":-48.5},{"i":246,"v":-46.5},{"i":248,"v":-44.4},{"i":250,"v":-47.2},{"i":252,"v":-45.8},{"i":254,"v":-46.9},{"i":256,"v":-43.7},{"i":258,"v":-47.6},{"i":260,"v":-48.3},{"i":262,"v":-45.4},{"i":264,"v":-46.2},{"i":266,"v":-44.0},{"i":268,"v":-47.0},{"i":270,"v":-45.7},{"i":272,"v":-48.0},{"i":274,"v":-46.6},{"i":276,"v":-43.5},{"i":278,"v":-46.1},{"i":280,"v":-47.4},{"i":282,"v":-45.2},{"i":284,"v":-44.7},{"i":286,"v":-48.7},{"i":288,"v":-46.4},{"i":290,"v":-45.9},{"i":292,"v":-43.3},{"i":294,"v":-47.1},{"i":296,"v":-46.0},{"i":298,"v":-44.5},{"i":300,"v":-47.8},{"i":302,"v":-45.6},{"i":304,"v":-46.8},{"i":306,"v":-43.9},{"i":308,"v":-47.3},{"i":310,"v":-45.1},{"i":312,"v":-46.5},{"i":314,"v":-48.1},{"i":316,"v":-44.3},{"i":318,"v":-46.2},{"i":320,"v":-47.6},{"i":322,"v":-45.4},{"i":324,"v":-43.2},{"i":326,"v":-46.9},{"i":328,"v":-47.9},{"i":330,"v":-45.8},{"i":332,"v":-44.6},{"i":334,"v":-46.3},{"i":336,"v":-48.4},{"i":338,"v":-45.0},{"i":340,"v":-46.7},{"i":342,"v":-43.6},{"i":344,"v":-47.2},{"i":346,"v":-46.1},{"i":348,"v":-44.8},{"i":350,"v":-47.7},{"i":352,"v":-45.5},{"i":354,"v":-46.4},{"i":356,"v":-48.0},{"i":358,"v":-44.1},{"i":360,"v":-46.6},{"i":362,"v":-45.3},{"i":364,"v":-47.4},{"i":366,"v":-43.4},{"i":368,"v":-46.0},{"i":370,"v":-47.9},{"i":372,"v":-45.7},{"i":374,"v":-44.5},{"i":376,"v":-46.8},{"i":378,"v":-48.2},{"i":380,"v":-45.2},{"i":382,"v":-46.3},{"i":384,"v":-43.8},{"i":386,"v":-47.0},{"i":388,"v":-45.9},{"i":390,"v":-44.2},{"i":392,"v":-47.5},{"i":394,"v":-46.5},{"i":396,"v":-45.0},{"i":398,"v":-48.5},{"i":400,"v":-44.7},{"i":402,"v":-46.2},{"i":404,"v":-47.3},{"i":406,"v":-43.5},{"i":408,"v":-46.9},{"i":410,"v":-45.6},{"i":412,"v":-47.8},{"i":414,"v":-44.4},{"i":416,"v":-46.1},{"i":418,"v":-48.1},{"i":420,"v":-45.3},{"i":422,"v":-46.7},{"i":424,"v":-43.1},{"i":426,"v":-47.1},{"i":428,"v":-45.8},{"i":430,"v":-46.4},{"i":432,"v":-44.0},{"i":434,"v":-47.6},{"i":436,"v":-46.0},{"i":438,"v":-45.1},{"i":440,"v":-48.3},{"i":442,"v":-44.6},{"i":444,"v":-46.5},{"i":446,"v":-43.7},{"i":448,"v":-47.4},{"i":450,"v":-45.4},{"i":452,"v":-46.8},{"i":454,"v":-44.9},{"i":456,"v":-47.7},{"i":458,"v":-45.7},{"i":460,"v":-46.2},{"i":462,"v":-43.9},{"i":464,"v":-48.0},{"i":466,"v":-45.2},{"i":468,"v":-46.6},{"i":470,"v":-44.3},{"i":472,"v":-47.2},{"i":474,"v":-46.1},{"i":476,"v":-45.5},{"i":478,"v":-48.4},{"i":480,"v":-44.8},{"i":482,"v":-46.9},{"i":484,"v":-43.4},{"i":486,"v":-47.5},{"i":488,"v":-45.9},{"i":490,"v":-46.3},{"i":492,"v":-42.9},{"i":494,"v":-47.0},{"i":496,"v":-45.3},{"i":498,"v":-46.7},{"i":500,"v":-44.5},{"i":502,"v":-47.9},{"i":504,"v":-46.0},{"i":506,"v":-45.6},{"i":508,"v":-48.2},{"i":510,"v":-44.2},{"i":512,"v":-46.4},{"i":514,"v":-43.8},{"i":516,"v":-47.3},{"i":518,"v":-45.0},{"i":520,"v":-46.8},{"i":522,"v":-44.7},{"i":524,"v":-47.6},{"i":526,"v":-45.8},{"i":528,"v":-46.1},{"i":530,"v":-43.6},{"i":532,"v":-48.1},{"i":534,"v":-45.4},{"i":536,"v":-46.5},{"i":538,"v":-44.1},{"i":540,"v":-47.1},{"i":542,"v":-46.2},{"i":544,"v":-45.1},{"i":546,"v":-48.5},{"i":548,"v":-44.6},{"i":550,"v":-46.9},{"i":552,"v":-43.3},{"i":554,"v":-47.4},{"i":556,"v":-45.7},{"i":558,"v":-46.4},{"i":560,"v":-44.4},{"i":562,"v":-47.8},{"i":564,"v":-45.5},{"i":566,"v":-46.6},{"i":568,"v":-43.9},{"i":570,"v":-48.0},{"i":572,"v":-45.2},{"i":574,"v":-46.3},{"i":576,"v":-44.0},{"i":578,"v":-47.2},{"i":580,"v":-43.5},{"i":582,"v":-46.7},{"i":584,"v":-45.9},{"i":586,"v":-47.5},{"i":588,"v":-44.8},{"i":590,"v":-46.0},{"i":592,"v":-43.7},{"i":594,"v":-48.3},{"i":596,"v":-45.3},{"i":598,"v":-46.8},{"i":600,"v":-44.2},{"i":602,"v":-47.0},{"i":604,"v":-45.6},{"i":606,"v":-46.4},{"i":608,"v":-43.2},{"i":610,"v":-47.7},{"i":612,"v":-45.8},{"i":614,"v":-46.1},{"i":616,"v":-44.5},{"i":618,"v":-48.1},{"i":620,"v":-45.0},{"i":622,"v":-46.9},{"i":624,"v":-43.6},{"i":626,"v":-47.3},{"i":628,"v":-45.4},{"i":630,"v":-46.5},{"i":632,"v":-44.1},{"i":634,"v":-47.9},{"i":636,"v":-43.0},{"i":638,"v":-46.2},{"i":640,"v":-45.7},{"i":642,"v":-48.4},{"i":644,"v":-44.7},{"i":646,"v":-46.6},{"i":648,"v":-43.4},{"i":650,"v":-47.4},{"i":652,"v":-45.1},{"i":654,"v":-46.3},{"i":656,"v":-42.9},{"i":658,"v":-47.6},{"i":660,"v":-45.9},{"i":662,"v":-46.7},{"i":664,"v":-44.3},{"i":666,"v":-48.0},{"i":668,"v":-45.5},{"i":670,"v":-46.0},{"i":672,"v":-43.8},{"i":674,"v":-47.1},{"i":676,"v":-45.2},{"i":678,"v":-46.8},{"i":680,"v":-44.6},{"i":682,"v":-48.2},{"i":684,"v":-45.8},{"i":686,"v":-46.4},{"i":688,"v":-43.5},{"i":690,"v":-47.5},{"i":692,"v":-45.0},{"i":694,"v":-46.9},{"i":696,"v":-44.0},{"i":698,"v":-47.8},{"i":700,"v":-45.6},{"i":702,"v":-46.1},{"i":704,"v":-44.4},{"i":706,"v":-48.5},{"i":708,"v":-45.3},{"i":710,"v":-46.6},{"i":712,"v":-43.9},{"i":714,"v":-47.2},{"i":716,"v":-45.7},{"i":718,"v":-46.3},{"i":720,"v":-44.8},{"i":722,"v":-47.9},{"i":724,"v":-43.3},{"i":726,"v":-46.8},{"i":728,"v":-45.4},{"i":730,"v":-48.1},{"i":732,"v":-44.2},{"i":734,"v":-46.5},{"i":736,"v":-43.7},{"i":738,"v":-47.4},{"i":740,"v":-45.1},{"i":742,"v":-46.2},{"i":744,"v":-44.5},{"i":746,"v":-47.7},{"i":748,"v":-45.9},{"i":750,"v":-46.9},{"i":752,"v":-43.4},{"i":754,"v":-48.3},{"i":756,"v":-45.5},{"i":758,"v":-46.0},{"i":760,"v":-44.1},{"i":762,"v":-47.3},{"i":764,"v":-45.8},{"i":766,"v":-46.7},{"i":768,"v":-43.6},{"i":770,"v":-47.6},{"i":772,"v":-45.2},{"i":774,"v":-46.4},{"i":776,"v":-44.7},{"i":778,"v":-48.0},{"i":780,"v":-45.0},{"i":782,"v":-46.8},{"i":784,"v":-43.8},{"i":786,"v":-47.0},{"i":788,"v":-45.6},{"i":790,"v":-46.1},{"i":792,"v":-43.1},{"i":794,"v":-47.8},{"i":796,"v":-45.3},{"i":798,"v":-46.6},{"i":800,"v":-44.3},{"i":802,"v":-48.2},{"i":804,"v":-45.7},{"i":806,"v":-46.3},{"i":808,"v":-43.9},{"i":810,"v":-47.5},{"i":812,"v":-45.1},{"i":814,"v":-46.9},{"i":816,"v":-44.6},{"i":818,"v":-47.2},{"i":820,"v":-43.5},{"i":822,"v":-46.5},{"i":824,"v":-45.8},{"i":826,"v":-48.4},{"i":828,"v":-44.4},{"i":830,"v":-46.0},{"i":832,"v":-43.3},{"i":834,"v":-47.7},{"i":836,"v":-45.4},{"i":838,"v":-46.7},{"i":840,"v":-44.0},{"i":842,"v":-47.9},{"i":844,"v":-45.5},{"i":846,"v":-46.2},{"i":848,"v":-43.7},{"i":850,"v":-48.1},{"i":852,"v":-45.0},{"i":854,"v":-46.8},{"i":856,"v":-44.8},{"i":858,"v":-47.4},{"i":860,"v":-45.9},{"i":862,"v":-46.4},{"i":864,"v":-43.2},{"i":866,"v":-47.1},{"i":868,"v":-45.3},{"i":870,"v":-46.6},{"i":872,"v":-44.2},{"i":874,"v":-48.0},{"i":876,"v":-45.7},{"i":878,"v":-46.1},{"i":880,"v":-43.6},{"i":882,"v":-47.6},{"i":884,"v":-45.2},{"i":886,"v":-46.9},{"i":888,"v":-44.5},{"i":890,"v":-47.3},{"i":892,"v":-43.0},{"i":894,"v":-46.3},{"i":896,"v":-45.8},{"i":898,"v":-48.3},{"i":900,"v":-44.7},{"i":902,"v":-46.5},{"i":904,"v":-43.9},{"i":906,"v":-47.8},{"i":908,"v":-45.4},{"i":910,"v":-46.0},{"i":912,"v":-44.1},{"i":914,"v":-47.5},{"i":916,"v":-45.6},{"i":918,"v":-46.7},{"i":920,"v":-43.4},{"i":922,"v":-48.2},{"i":924,"v":-45.1},{"i":926,"v":-46.2},{"i":928,"v":-44.9},{"i":930,"v":-47.0},{"i":932,"v":-45.9},{"i":934,"v":-46.4},{"i":936,"v":-43.8},{"i":938,"v":-47.7},{"i":940,"v":-45.3},{"i":942,"v":-46.8},{"i":944,"v":-44.3},{"i":946,"v":-48.5},{"i":948,"v":-45.5},{"i":950,"v":-46.1},{"i":952,"v":-43.5},{"i":954,"v":-47.2},{"i":956,"v":-45.0},{"i":958,"v":-46.6},{"i":960,"v":-44.6},{"i":962,"v":-47.9},{"i":964,"v":-43.1},{"i":966,"v":-46.3},{"i":968,"v":-45.7},{"i":970,"v":-48.1},{"i":972,"v":-44.0},{"i":974,"v":-46.9},{"i":976,"v":-43.3},{"i":978,"v":-47.4},{"i":980,"v":-45.2},{"i":982,"v":-46.5},{"i":984,"v":-44.4},{"i":986,"v":-47.6},{"i":988,"v":-45.8},{"i":990,"v":-46.0},{"i":992,"v":-43.6},{"i":994,"v":-48.0},{"i":996,"v":-45.4},{"i":998,"v":-46.7},{"i":1000,"v":-44.8}]
},
"layer": [
 {"data": {"name": "nlms"},
  "mark": {"type": "line", "color": "#000", "strokeWidth": 1, "clip": true},
  "encoding": {
   "x": {"field": "i", "type": "quantitative", "scale": {"domain": [0, 1000], "nice": false, "zero": false},
         "axis": {"orient": "bottom", "values": [0,100,200,300,400,500,600,700,800,900,1000], "format": "d", "title": "iterations", "grid": true, "labelPadding": 19, "titlePadding": 3, "labelFlush": false}},
   "y": {"field": "v", "type": "quantitative", "scale": {"domain": [-60, 10], "nice": false, "zero": false},
         "axis": {"orient": "left", "values": [-60,-50,-40,-30,-20,-10,0,10], "format": "d", "title": "Nomalized MSE", "grid": true, "labelPadding": 15, "titlePadding": 9, "labelFlush": false}},
   "strokeDash": {"datum": "NLMS", "type": "nominal",
     "scale": {"domain": ["NLMS", "RLS", "NFCGA nw=2", "NFCGA nw=10", "NFCGA nw=50"], "range": [[1, 0], [12, 9], [1, 6], [13, 7, 1, 7], [1, 0]]},
     "legend": {"orient": "none", "legendX": 582, "legendY": 56,
       "title": "\u00a0", "titleOrient": "right", "titlePadding": 48, "titleFontSize": 22, "titleFont": "Liberation Sans", "titleAngle": 0, "titleColor": "#000",
       "symbolType": "M-1.82,0H2.09", "symbolSize": 484, "symbolStrokeWidth": 1, "symbolStrokeColor": "#000", "symbolFillColor": "transparent",
       "labelFont": "Liberation Sans", "labelFontSize": 22, "labelColor": "#000", "labelOffset": 21, "rowPadding": 8, "padding": 19,
       "strokeColor": "#000", "fillColor": "#fff", "labelLimit": 400,
       "encode": {
        "symbols": {"update": {
          "shape": {"signal": "datum.value === 'NFCGA nw=50' ? 'M-0.9,0A0.27,0.27,0,1,0,-0.36,0A0.27,0.27,0,1,0,-0.9,0Z' : 'M-1.82,0H2.09'"},
          "fill": {"signal": "datum.value === 'NFCGA nw=50' ? '#000' : 'transparent'"},
          "stroke": {"value": "#000"},
          "strokeWidth": {"value": 1},
          "opacity": {"value": 1},
          "strokeOpacity": {"value": 1},
          "strokeDash": {"signal": "datum.value === 'RLS' ? [12, 9] : datum.value === 'NFCGA nw=2' ? [1, 6] : datum.value === 'NFCGA nw=10' ? [13, 7, 1, 7] : [1, 0]"}
       }}}}}
  }},
 {"data": {"name": "rls"},
  "mark": {"type": "line", "color": "#000", "strokeWidth": 1, "clip": true},
  "encoding": {
   "x": {"field": "i", "type": "quantitative", "axis": {"orient": "top", "values": [0,100,200,300,400,500,600,700,800,900,1000], "labels": false, "title": null, "grid": false, "domain": false}},
   "y": {"field": "v", "type": "quantitative", "axis": {"orient": "right", "values": [-60,-50,-40,-30,-20,-10,0,10], "labels": false, "title": null, "grid": false, "domain": false}},
   "strokeDash": {"datum": "RLS", "type": "nominal"}
  }},
 {"data": {"name": "nw2"},
  "mark": {"type": "line", "color": "#000", "strokeWidth": 1, "clip": true},
  "encoding": {
   "x": {"field": "i", "type": "quantitative", "axis": null},
   "y": {"field": "v", "type": "quantitative", "axis": null},
   "strokeDash": {"datum": "NFCGA nw=2", "type": "nominal"}
  }},
 {"data": {"name": "nw10"},
  "mark": {"type": "line", "color": "#000", "strokeWidth": 1, "clip": true},
  "encoding": {
   "x": {"field": "i", "type": "quantitative", "axis": null},
   "y": {"field": "v", "type": "quantitative", "axis": null},
   "strokeDash": {"datum": "NFCGA nw=10", "type": "nominal"}
  }},
 {"data": {"name": "nw50"},
  "mark": {"type": "point", "shape": "circle", "filled": true, "color": "#000", "opacity": 1, "size": 30, "clip": true},
  "encoding": {
   "x": {"field": "i", "type": "quantitative", "axis": null},
   "y": {"field": "v", "type": "quantitative", "axis": null},
   "strokeDash": {"datum": "NFCGA nw=50", "type": "nominal"}
  }}
],
"resolve": {"axis": {"x": "independent", "y": "independent"}}
}
